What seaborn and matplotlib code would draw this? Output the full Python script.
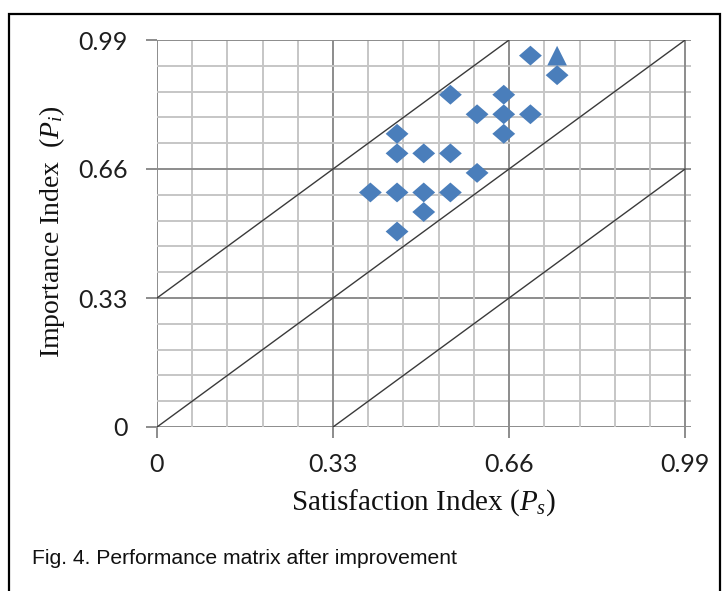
import numpy as np
import pandas as pd
import matplotlib
matplotlib.use("Agg")
import matplotlib.pyplot as plt
import matplotlib.patches as mpatches
from matplotlib.path import Path
import seaborn as sns

# ---- data ----
sat_diamond = [0.70, 0.75, 0.55, 0.65, 0.60, 0.65, 0.70, 0.65, 0.45, 0.45,
               0.50, 0.55, 0.60, 0.40, 0.45, 0.50, 0.55, 0.50, 0.45]
imp_diamond = [0.95, 0.90, 0.85, 0.85, 0.80, 0.80, 0.80, 0.75, 0.75, 0.70,
               0.70, 0.70, 0.65, 0.60, 0.60, 0.60, 0.60, 0.55, 0.50]
sat_triangle = [0.75]
imp_triangle = [0.95]
tick_values = [0, 0.33, 0.66, 0.99]
tick_labels = ["0", "0.33", "0.66", "0.99"]
minor_step = 0.066
line_offsets = [0.33, 0.0, -0.33]   # boundaries y = x + offset
axis_max = 0.99

sns.set_style("white")
plt.rcParams["font.family"] = ["Lato", "DejaVu Sans"]
plt.rcParams["mathtext.fontset"] = "custom"
plt.rcParams["mathtext.rm"] = "Liberation Serif"
plt.rcParams["mathtext.it"] = "Liberation Serif:italic"

fig = plt.figure(figsize=(7.27, 5.91), dpi=100)
ax = fig.add_axes([157 / 727, 1 - 427 / 591, 534 / 727, 387 / 591])

blue = "#4A7EBB"
diamond = Path([(-1, 0), (0, 0.87), (1, 0), (0, -0.87), (-1, 0)],
               [Path.MOVETO, Path.LINETO, Path.LINETO, Path.LINETO, Path.CLOSEPOLY])

# grid
minor = np.round(np.arange(0, axis_max + 1e-9, minor_step), 3)
for v in minor:
    major = any(abs(v - t) < 1e-6 for t in tick_values)
    c = "#8c8c8c" if major else "#c6c6c6"
    ax.axvline(v, color=c, lw=1.4, zorder=1)
    ax.axhline(v, color=c, lw=1.4, zorder=1)

# diagonal boundaries
for off in line_offsets:
    x0 = max(0, -off)
    x1 = min(axis_max, axis_max - off)
    ax.plot([x0, x1], [x0 + off, x1 + off], color="#3a3a3a", lw=1.0, zorder=2)

df_d = pd.DataFrame({"sat": sat_diamond, "imp": imp_diamond})
df_t = pd.DataFrame({"sat": sat_triangle, "imp": imp_triangle})
sns.scatterplot(data=df_t, x="sat", y="imp", marker="^", s=200, color=blue,
                edgecolor="none", ax=ax, zorder=3)
sns.scatterplot(data=df_d, x="sat", y="imp", marker=diamond, s=270, color=blue,
                edgecolor="none", ax=ax, zorder=4)

ax.set_xlim(0, 1.001)
ax.set_ylim(0, axis_max)
for s in ax.spines.values():
    s.set_visible(False)
ax.set_xticks(tick_values)
ax.set_xticklabels(tick_labels)
ax.set_yticks(tick_values)
ax.set_yticklabels(tick_labels)
ax.tick_params(axis="both", which="major", length=8, width=1.4, color="#8c8c8c",
               labelsize=18, labelcolor="#1e1e1e", direction="out",
               bottom=True, left=True)
ax.tick_params(axis="y", pad=13)
ax.tick_params(axis="x", pad=11)

ax.set_xlabel(r"Satisfaction Index ($\mathit{P}_{s}$)", fontsize=21,
              family="Liberation Serif", color="#111111", labelpad=8)
ax.set_ylabel(r"Importance Index  ($\mathit{P}_{i}$)", fontsize=20,
              family="Liberation Serif", color="#111111")
ax.yaxis.set_label_coords(-0.168, 0.505)

fig.text(32 / 727, 1 - 558 / 591, "Fig. 4. Performance matrix after improvement",
         family="Liberation Sans", fontsize=15.2, color="#111111", va="center", ha="left")

frame = mpatches.Rectangle((9 / 727, -0.02), (720 - 9) / 727, (591 - 14) / 591 + 0.02,
                           transform=fig.transFigure, fill=False, lw=1.6,
                           edgecolor="black", clip_on=False)
fig.patches.append(frame)

fig.savefig("out.png", dpi=100)
